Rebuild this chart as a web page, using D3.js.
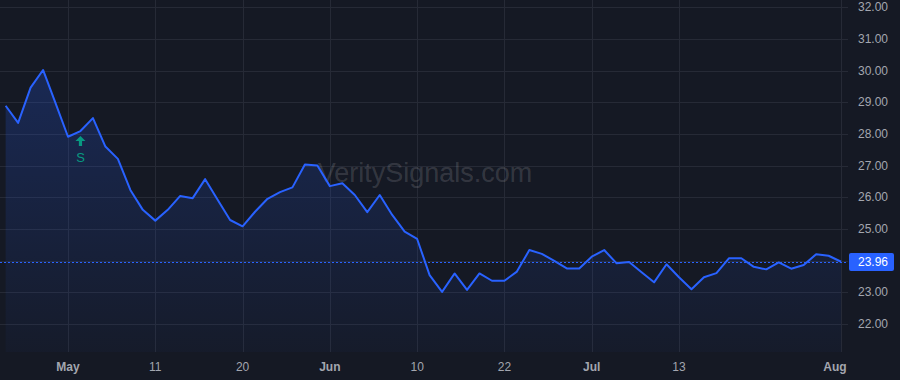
<!DOCTYPE html>
<html>
<head>
<meta charset="utf-8">
<script src="https://cdn.jsdelivr.net/npm/d3@7"></script>
<style>
  html, body { margin: 0; padding: 0; background: #151924; }
  svg { display: block; }
</style>
</head>
<body>
<div id="chart"></div>
<script>
// closing prices, one per trading day
var prices = [
  28.89, 28.35, 29.46, 30.02, 28.97, 27.91, 28.09, 28.50, 27.60, 27.21,
  26.23, 25.60, 25.26, 25.60, 26.04, 25.97, 26.57, 25.92, 25.28, 25.08,
  25.54, 25.95, 26.16, 26.31, 27.03, 27.00, 26.35, 26.44, 26.07, 25.53,
  26.07, 25.44, 24.91, 24.68, 23.54, 23.01, 23.59, 23.07, 23.59, 23.36,
  23.36, 23.65, 24.33, 24.21, 23.99, 23.75, 23.75, 24.12, 24.33, 23.91,
  23.95, 23.63, 23.31, 23.88, 23.47, 23.09, 23.47, 23.60, 24.07, 24.07,
  23.80, 23.72, 23.94, 23.74, 23.86, 24.20, 24.15, 23.96
];
// x axis ticks (bar index -> label)
var tickIndex = [5, 12, 19, 26, 33, 40, 47, 54, 67];
var tickLabel = ["May", "11", "20", "Jun", "10", "22", "Jul", "13", "Aug"];
var monthLabels = ["May", "Jun", "Jul", "Aug"];
// price axis ticks
var priceTicks = [22, 23, 24, 25, 26, 27, 28, 29, 30, 31, 32];
var lastPrice = 23.96;
// signal markers
var signalIndex = [6];
var signalText = ["S"];

var width = 900, height = 380;
var plotRight = 848, plotBottom = 352;

var svg = d3.select("#chart").append("svg")
    .attr("width", width).attr("height", height)
    .style("font-family", "'Liberation Sans', Arial, sans-serif");

svg.append("rect").attr("width", width).attr("height", height).attr("fill", "#151924");

var x = d3.scaleLinear().domain([0, prices.length - 1]).range([5.65, 841.1]);
var y = d3.scaleLinear().domain([22, 32]).range([323.8, 7.3]);

// gradient for area
var defs = svg.append("defs");
var grad = defs.append("linearGradient").attr("id", "areaGrad")
    .attr("x1", 0).attr("y1", 0).attr("x2", 0).attr("y2", 1);
grad.append("stop").attr("offset", "0%").attr("stop-color", "#2962ff").attr("stop-opacity", 0.22);
grad.append("stop").attr("offset", "100%").attr("stop-color", "#2962ff").attr("stop-opacity", 0.03);

// grid
var grid = svg.append("g");
grid.selectAll("line.h").data(priceTicks).enter().append("line")
    .attr("x1", 0).attr("x2", plotRight)
    .attr("y1", function(d) { return Math.round(y(d)) + 0.5; })
    .attr("y2", function(d) { return Math.round(y(d)) + 0.5; })
    .attr("stroke", "#262a36").attr("stroke-width", 1);
grid.selectAll("line.v").data(tickIndex).enter().append("line")
    .attr("x1", function(d) { return Math.round(x(d)) + 0.5; })
    .attr("x2", function(d) { return Math.round(x(d)) + 0.5; })
    .attr("y1", 0).attr("y2", plotBottom)
    .attr("stroke", "#262a36").attr("stroke-width", 1);

// watermark
svg.append("text")
    .attr("x", 425).attr("y", 182)
    .attr("text-anchor", "middle")
    .attr("font-size", 27)
    .attr("fill", "#ffffff").attr("fill-opacity", 0.14)
    .text("VeritySignals.com");

// area + line
var area = d3.area()
    .x(function(d, i) { return x(i); })
    .y0(plotBottom)
    .y1(function(d) { return y(d); });
var line = d3.line()
    .x(function(d, i) { return x(i); })
    .y(function(d) { return y(d); });

svg.append("path").datum(prices)
    .attr("d", area)
    .attr("fill", "url(#areaGrad)");

// last price dotted line
svg.append("line")
    .attr("x1", 0).attr("x2", plotRight)
    .attr("y1", Math.round(y(lastPrice)) + 0.5).attr("y2", Math.round(y(lastPrice)) + 0.5)
    .attr("stroke", "#2962ff").attr("stroke-width", 1)
    .attr("stroke-dasharray", "2,2");

svg.append("path").datum(prices)
    .attr("d", line)
    .attr("fill", "none")
    .attr("stroke", "#2962ff")
    .attr("stroke-width", 2)
    .attr("stroke-linejoin", "round");

// signal markers
var sig = svg.selectAll("g.sig").data(signalIndex).enter().append("g")
    .attr("transform", function(d) { return "translate(" + x(d) + "," + (y(prices[d]) + 5) + ")"; });
sig.append("path")
    .attr("d", "M0,0 L5,5 L1.6,5 L1.6,10 L-1.6,10 L-1.6,5 L-5,5 Z")
    .attr("fill", "#089981");
sig.append("text")
    .data(signalText)
    .attr("y", 26)
    .attr("text-anchor", "middle")
    .attr("font-size", 13)
    .attr("fill", "#089981")
    .text(function(d) { return d; });

// right price axis (labels hidden under the last price tag are skipped)
svg.selectAll("text.py")
    .data(priceTicks.filter(function(d) { return Math.abs(y(d) - y(lastPrice)) > 14; }))
    .enter().append("text")
    .attr("x", 858).attr("y", function(d) { return y(d) + 4; })
    .attr("font-size", 12)
    .attr("fill", "#a3a6af")
    .text(function(d) { return d3.format(".2f")(d); });

// last price label
svg.append("rect")
    .attr("x", 849).attr("y", Math.round(y(lastPrice)) - 9)
    .attr("width", 45).attr("height", 18).attr("rx", 2)
    .attr("fill", "#2962ff");
svg.append("text")
    .attr("x", 858).attr("y", y(lastPrice) + 4.5)
    .attr("font-size", 12)
    .attr("fill", "#ffffff")
    .text(d3.format(".2f")(lastPrice));

// bottom time axis
svg.selectAll("text.tx").data(tickIndex).enter().append("text")
    .attr("x", function(d) { return Math.min(x(d), plotRight - 13); })
    .attr("y", 371)
    .attr("text-anchor", "middle")
    .attr("font-size", 12)
    .attr("font-weight", function(d, i) { return monthLabels.indexOf(tickLabel[i]) >= 0 ? "bold" : "normal"; })
    .attr("fill", "#a3a6af")
    .text(function(d, i) { return tickLabel[i]; });
</script>
</body>
</html>
